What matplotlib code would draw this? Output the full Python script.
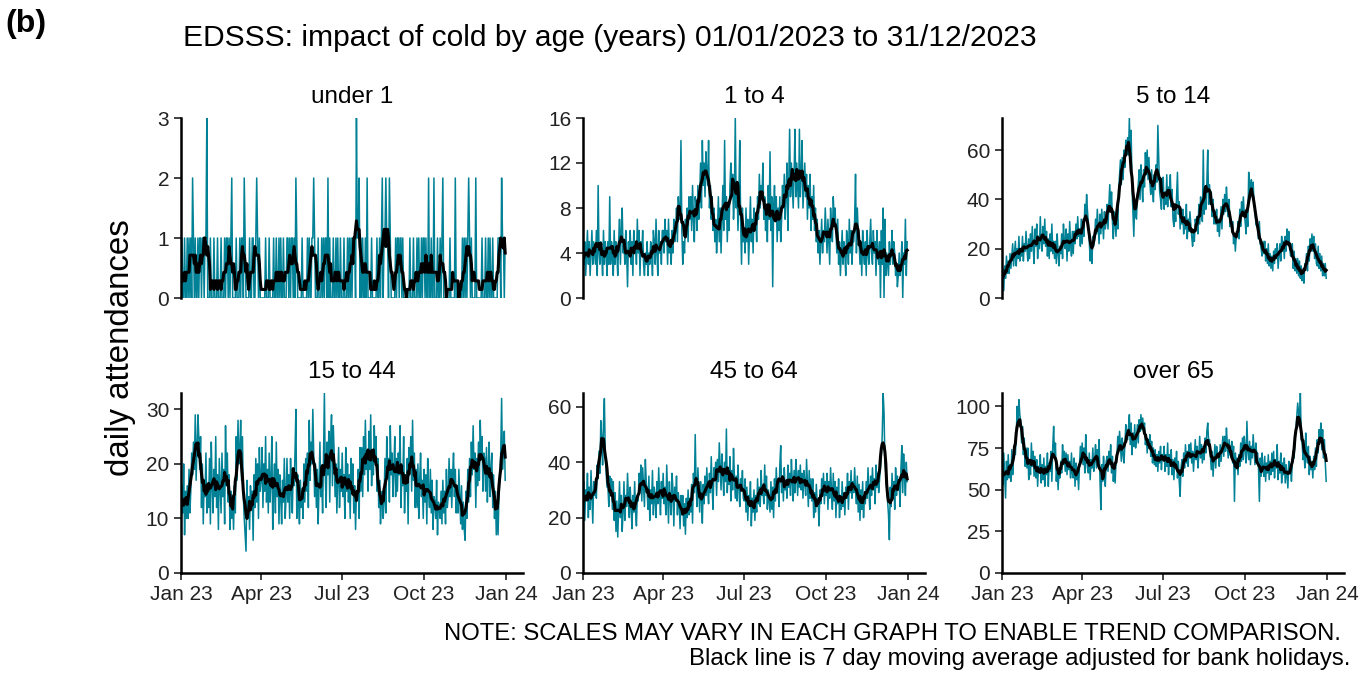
import numpy as np
import pandas as pd
import matplotlib
matplotlib.use('Agg')
import matplotlib.pyplot as plt
import matplotlib.dates as mdates

plt.rcParams['font.family'] = ['Liberation Sans', 'DejaVu Sans']

#####################################
# Daily attendances, one row a month
#####################################
under_1 = """
0 1 0 0 1 0 0 1 0 1 0 1 0 2 1 0 1 0 0 1 0 1 1 0 1 1 0 1 1 3 0
0 0 1 0 0 0 1 0 0 0 1 0 0 0 1 0 0 0 1 0 1 1 0 1 0 1 2 0
0 0 0 1 0 0 0 1 0 1 1 0 2 1 0 0 0 0 1 0 0 1 1 0 0 1 2 1 0 1 0
0 0 0 0 0 1 0 0 0 1 0 0 0 0 1 0 0 1 0 0 1 0 1 0 0 1 0 0 0 1
1 0 1 0 1 1 0 1 0 2 1 0 0 0 0 0 1 0 0 0 0 0 1 0 1 0 0 1 1 2 1
0 0 0 1 0 0 0 1 0 1 0 1 1 0 2 0 1 0 0 0 1 0 0 1 0 1 0 0 1 0
0 0 1 0 0 0 1 0 1 0 1 0 1 1 1 0 3 1 1 2 0 1 0 1 0 0 1 0 2 0 0
0 0 1 0 0 0 0 0 1 0 0 1 0 1 2 0 1 1 2 1 1 0 2 1 0 0 0 0 0 1 0
1 1 0 1 1 0 1 0 0 0 0 0 0 0 1 0 0 0 1 0 0 0 1 0 1 0 0 1 0 1
1 0 1 0 0 2 0 0 1 0 0 2 0 0 0 1 0 0 1 0 1 2 0 0 0 0 0 0 0 1 0
0 0 0 0 2 0 0 0 0 0 0 0 1 0 1 0 1 0 1 2 1 0 1 0 0 0 0 2 0 0
0 0 0 0 1 0 0 0 1 0 0 1 0 1 0 0 1 0 0 0 0 0 1 1 1 0 2 1 1 0 1
"""

age_1_4 = """
4 3 5 2 4 6 3 5 2 4 6 3 5 4 3 6 2 10 4 3 5 4 2 6 3 5 4 2 5 3 9
3 5 4 2 6 3 5 4 2 5 7 3 6 8 4 5 3 6 4 1 5 4 6 3 5 2 6 4
5 3 7 4 6 2 5 4 6 3 2 4 3 5 2 4 3 5 4 2 6 5 3 7 4 2 6 4 5 3 6
6 4 7 5 6 3 7 4 5 3 6 4 7 5 6 8 5 9 7 8 14 6 3 5 4 7 6 8 5 9
7 9 6 10 7 5 9 8 6 10 7 9 12 8 14 10 12 9 13 11 10 14 8 10 7 9 6 8 5 7 4
6 9 5 8 4 7 10 6 14 7 9 5 8 6 10 12 9 11 7 9 16 8 10 6 9 14 7 3 8 5
6 4 8 5 7 3 6 9 5 7 4 8 6 7 5 9 7 11 8 10 9 12 7 9 6 8 5 10 7 13 6
9 1 8 10 7 9 5 8 6 9 5 7 10 8 11 7 9 12 6 10 15 9 12 10 8 11 15 9 12 10 8
15 9 11 14 8 10 12 9 11 7 10 8 11 6 9 7 10 6 8 5 7 4 6 3 5 7 4 6 5 8
6 4 7 5 3 8 6 5 9 7 8 6 4 7 3 5 2 4 6 3 5 4 2 6 5 3 7 4 6 3 5
5 7 11 4 8 6 5 3 5 2 6 4 3 5 2 6 4 3 5 7 4 3 6 4 5 2 6 4 3 5
0 6 3 8 0 7 2 4 3 2 5 3 4 6 3 5 4 2 3 1 2 4 2 3 5 0 4 3 7 2 5
"""

age_5_14 = """
5 12 3 13 8 17 10 15 10 18 12 17 22 13 18 23 13 20 16 25 15 20 17 25 15 22 19 27 20 15 24
16 26 19 29 21 14 28 21 30 16 25 20 33 23 19 29 22 32 21 27 17 24 16 26 19 30 18 23
16 23 14 26 18 13 21 18 26 16 30 23 20 28 15 26 19 31 22 17 27 18 27 22 30 24 33 25 28 21 32
22 31 25 38 32 42 35 30 23 15 20 14 25 21 24 32 26 36 29 22 34 26 36 30 24 35 28 31 38 28
38 46 36 43 31 24 35 30 25 36 28 44 50 56 46 57 48 60 53 64 58 65 58 73 56 68 45 35 25 40 34
32 42 46 52 40 54 46 39 52 45 59 50 60 48 57 47 42 52 44 39 50 44 54 47 70 56 43 40 36 44
49 36 43 38 50 37 45 42 50 37 44 32 29 37 31 41 51 34 39 28 36 30 36 26 33 28 38 24 32 27 35
30 25 21 27 23 32 29 33 26 38 30 41 34 31 60 34 42 36 47 60 38 46 38 43 33 40 30 35 30 36 27
32 25 31 37 28 40 34 42 35 45 38 33 40 29 32 28 31 22 26 19 25 26 31 24 36 29 39 34 41 34
31 26 35 29 51 40 45 48 41 47 38 37 30 29 29 24 31 22 20 17 23 18 23 15 20 14 22 13 18 12 17
11 19 14 20 16 22 12 17 22 15 25 19 23 16 25 19 28 22 27 20 17 18 22 12 19 11 16 10 16 9
15 8 13 7 11 6 14 13 18 11 21 15 24 19 26 19 25 16 22 14 13 21 12 18 11 17 9 14 9 14 8
"""

age_15_44 = """
8 16 11 20 7 15 10 16 10 19 11 15 22 18 24 19 29 17 23 29 25 19 25 12 20 9 17 14 22 11 16
12 21 9 24 16 11 19 14 25 12 18 8 21 16 11 22 14 19 9 27 16 22 13 18 8 15 10 14
8 16 11 25 17 28 20 22 28 17 25 14 10 7 4 17 10 14 8 16 12 15 6 18 12 21 13 20 10 23 15
17 23 12 20 15 25 13 19 11 22 13 17 25 8 16 20 11 24 14 19 9 18 14 9 17 13 21 10 14 21
13 18 10 21 15 11 19 16 22 30 10 18 13 9 17 12 15 10 20 13 21 15 22 12 28 17 24 20 30 22 14
20 12 19 9 16 24 14 17 11 21 33 18 12 24 18 26 13 24 29 16 27 22 14 20 11 17 23 12 19 15
22 14 18 10 23 15 20 13 18 10 21 15 20 11 16 8 15 14 19 10 23 15 23 14 25 18 28 19 22 15 26
19 29 16 22 18 27 21 25 15 21 12 17 9 13 15 10 13 21 11 25 18 21 13 27 18 22 14 19 25 14 21
15 22 18 27 12 19 16 25 11 18 15 21 9 23 19 25 15 28 17 22 12 19 12 20 10 17 22 14 17 10
19 13 18 9 21 15 12 19 11 17 8 14 13 10 17 7 13 12 10 15 9 17 11 15 9 19 12 14 21 14 19
12 18 22 14 19 11 16 11 19 14 9 16 8 13 8 6 15 10 19 13 21 14 24 18 27 19 22 12 21 16
24 17 28 21 25 15 22 21 15 23 13 19 24 14 19 22 12 18 10 15 7 13 7 14 17 22 32 19 23 26 17
"""

age_45_64 = """
22 33 19 30 26 36 20 31 23 37 27 18 33 28 33 27 39 34 44 36 55 49 39 54 63 43 36 31 31 24 35
28 34 23 33 19 29 15 26 13 23 33 20 28 15 22 33 19 28 24 36 27 20 31 24 16 28 22 33
22 17 28 26 36 30 39 26 38 31 24 41 33 29 23 35 19 30 25 37 21 31 27 20 33 25 38 28 21 33 27
36 25 31 21 39 28 18 33 26 21 36 30 17 31 26 35 21 29 25 16 28 21 28 17 25 14 27 20 30 21
27 22 32 18 36 29 50 32 24 38 30 22 33 27 18 32 25 35 28 38 30 25 36 29 42 31 23 38 34 40 28
41 33 47 38 30 43 36 28 40 33 52 29 38 32 42 26 37 30 45 35 27 35 26 39 31 24 34 30 37 27
26 34 22 31 19 28 24 33 17 27 22 30 19 28 22 34 25 31 24 37 28 31 25 39 28 35 23 30 26 22 33
23 31 20 34 26 38 29 33 24 39 46 29 35 26 38 30 33 27 39 31 36 28 41 33 26 37 29 41 35 28 37
31 39 30 36 27 37 33 28 41 32 24 37 27 34 26 34 20 29 22 32 24 26 17 30 25 34 28 36 25 33
28 36 23 33 27 38 30 23 36 26 33 20 31 25 34 20 28 23 33 24 29 21 31 27 36 23 33 29 37 27 33
29 38 30 25 35 22 32 19 30 23 33 20 28 25 33 27 38 30 23 35 28 38 30 34 25 39 31 36 29 34
38 42 50 65 58 40 36 31 26 21 12 31 24 36 27 33 23 38 28 35 30 33 24 38 46 29 43 35 28 40 33
"""

over_65 = """
64 53 72 58 45 67 56 71 57 65 55 74 59 69 75 71 82 100 88 104 95 91 78 88 71 81 64 75 63 75 56
68 59 78 64 73 58 70 57 68 52 64 60 71 54 65 56 69 52 64 59 72 52 66 61 73 55 76 88
69 78 55 65 50 62 57 67 60 77 65 73 61 72 59 71 62 67 57 72 60 57 69 52 66 56 62 50 65 76 67
78 65 75 60 83 70 63 60 72 56 68 63 75 61 67 77 63 74 68 80 56 38 65 55 70 60 52 67 70 61
73 65 77 60 70 55 64 54 66 70 82 73 85 76 67 81 71 66 78 89 81 80 87 95 77 90 71 84 76 89 75
80 89 78 92 85 95 86 93 85 90 77 83 72 80 75 83 70 79 66 75 65 74 64 71 61 73 66 76 62 71
68 76 61 71 64 78 59 71 64 74 59 68 56 69 64 73 57 67 55 46 63 68 58 72 63 77 66 73 64 77 69
78 66 73 61 70 80 68 76 63 71 82 69 77 66 76 68 81 72 85 90 79 80 70 62 73 58 67 77 63 76 69
72 64 77 67 75 82 70 82 73 87 77 69 80 71 70 79 66 76 43 72 63 69 59 71 64 78 67 81 68 82
75 66 91 73 68 79 65 76 69 83 74 65 78 71 72 63 43 69 58 72 63 58 70 55 66 60 71 56 67 59 72
61 73 57 68 63 77 56 67 60 72 54 66 59 69 54 65 58 51 67 60 63 55 67 73 69 80 86 94 102 96
88 108 80 78 68 75 63 84 71 66 76 59 70 62 67 57 70 62 75 64 80 72 86 79 90 74 86 69 80 66 55
"""

panel_names = ['under 1', '1 to 4', '5 to 14', '15 to 44', '45 to 64', 'over 65']
panel_data = [under_1, age_1_4, age_5_14, age_15_44, age_45_64, over_65]
y_ticks = [[0, 1, 2, 3], [0, 4, 8, 12, 16], [0, 20, 40, 60],
           [0, 10, 20, 30], [0, 20, 40, 60], [0, 25, 50, 75, 100]]

teal = '#008196'
W, H = 1370, 674

fig = plt.figure(figsize=(W / 100, H / 100), dpi=100)

# panel positions in pixels (left, bottom)
lefts = [181, 583, 1002]
bottoms = [298, 573]
pw, ph = 342, 180

for i, (name, raw, ticks) in enumerate(zip(panel_names, panel_data, y_ticks)):
    row, col = divmod(i, 3)
    ax = fig.add_axes([lefts[col] / W, 1 - bottoms[row] / H, pw / W, ph / H])

    vals = np.array(raw.split(), dtype=float)
    dates = pd.date_range('2023-01-01', periods=len(vals), freq='D')
    avg = pd.Series(vals).rolling(7, center=True, min_periods=1).mean()

    ax.plot(dates, vals, color=teal, lw=1.1, zorder=2)
    ax.plot(dates, avg, color='black', lw=2.2, zorder=3)

    ax.set_xlim(pd.Timestamp('2023-01-01'), pd.Timestamp('2024-01-20'))
    ax.set_ylim(0, vals.max())
    ax.set_yticks(ticks)

    for s in ['top', 'right']:
        ax.spines[s].set_visible(False)
    ax.spines['left'].set_linewidth(1.8)
    ax.spines['bottom'].set_linewidth(1.8)
    ax.tick_params(axis='both', labelsize=15, length=5, width=1.3,
                   color='#333333', labelcolor='#222222')

    ax.xaxis.set_major_locator(mdates.MonthLocator(bymonth=[1, 4, 7, 10]))
    ax.xaxis.set_major_formatter(mdates.DateFormatter('%b %y'))
    if row == 0:
        ax.spines['bottom'].set_visible(False)
        ax.tick_params(axis='x', bottom=False, labelbottom=False)

    ax.text(0.5, 1 + 21 / ph, name, transform=ax.transAxes,
            ha='center', va='center', fontsize=17.5)

fig.text(5 / W, 1 - 24 / H, '(b)', fontsize=23, fontweight='bold',
         ha='left', va='center')
fig.text(183 / W, 1 - 38 / H,
         'EDSSS: impact of cold by age (years) 01/01/2023 to 31/12/2023',
         fontsize=21.6, ha='left', va='center')
fig.text(120 / W, 1 - 348 / H, 'daily attendances', fontsize=23.8,
         rotation=90, ha='center', va='center')
fig.text(1341 / W, 1 - 634 / H,
         'NOTE: SCALES MAY VARY IN EACH GRAPH TO ENABLE TREND COMPARISON.',
         fontsize=17.2, ha='right', va='center')
fig.text(1350 / W, 1 - 659 / H,
         'Black line is 7 day moving average adjusted for bank holidays.',
         fontsize=17.3, ha='right', va='center')

fig.savefig('out.png', dpi=100)
